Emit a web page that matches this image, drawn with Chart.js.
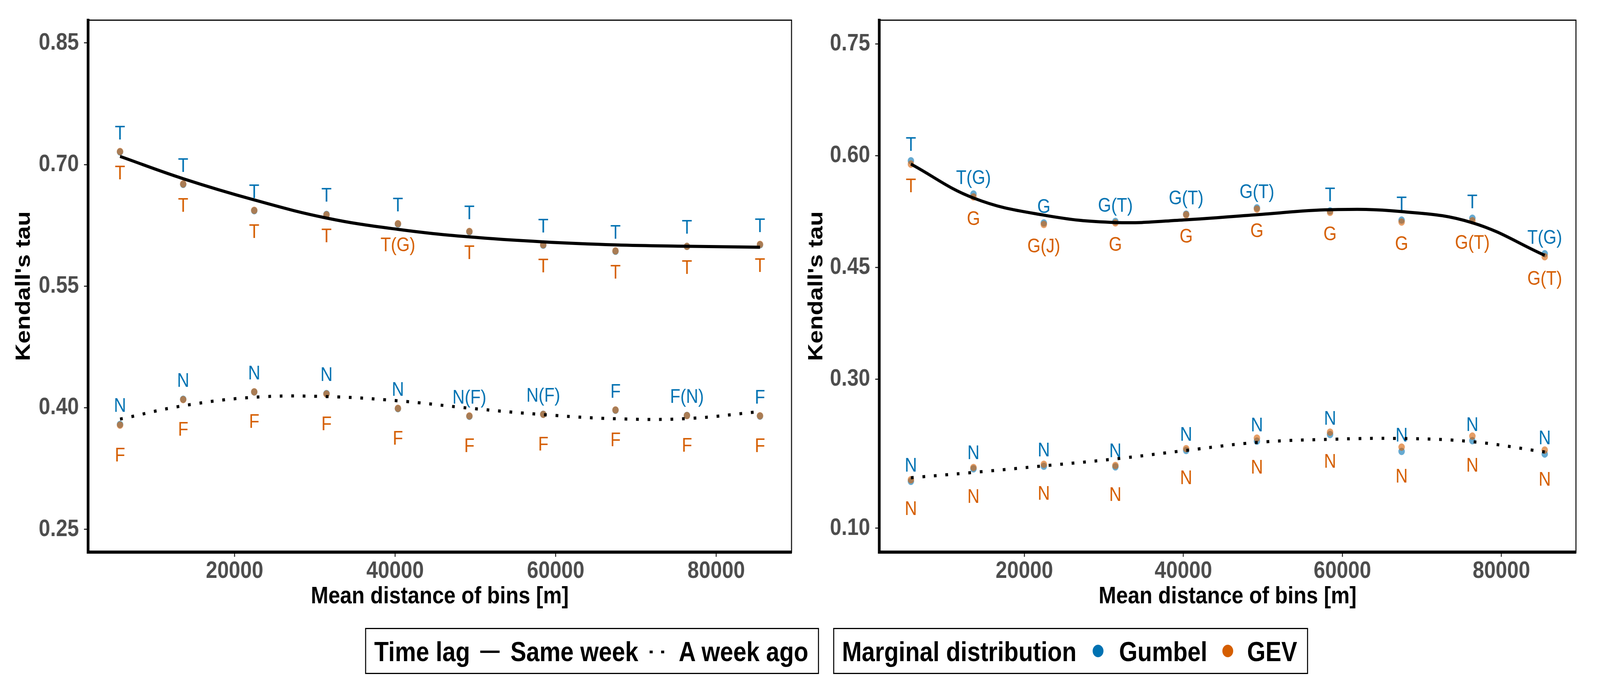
<!DOCTYPE html>
<html>
<head>
<meta charset="utf-8">
<script src="https://cdn.jsdelivr.net/npm/chart.js@4.4.1/dist/chart.umd.min.js"></script>
<style>
    html, body {
        margin: 0;
        background: #fff;
        overflow: hidden;
        font-family: "Liberation Sans", Arial, sans-serif;
    }
    #page {
        position: absolute;
        left: 0;
        top: 0;
        width: 4724px;
        height: 1771px;
        background: #fff;
        transform-origin: 0 0;
    }
    .panel { position: absolute; top: 0; }
    .box {
        position: absolute;
        top: 1607px;
        height: 118px;
        border: 3px solid #000;
        box-sizing: border-box;
    }
    .lg {
        position: absolute;
        top: 1633px;
        font-size: 70px;
        line-height: 70px;
        font-weight: bold;
        white-space: nowrap;
        color: #000;
    }
    .key { position: absolute; background: #000; }
    .dot { position: absolute; width: 32px; height: 32px; border-radius: 50%; top: 1650px; }
</style>
</head>
<body>
<div id="page">
    <div class="panel" style="left:0px;width:2370px;height:1600px;">
        <canvas id="chart-left" width="2370" height="1600"></canvas>
    </div>
    <div class="panel" style="left:2340px;width:2384px;height:1600px;">
        <canvas id="chart-right" width="2384" height="1600"></canvas>
    </div>

    <!-- legend: time lag -->
    <div class="box" style="left:1078px;width:1340px;"></div>
    <span class="lg" style="left:1105px;">Time lag</span>
    <div class="key" style="left:1418px;top:1665px;width:57px;height:6px;"></div>
    <span class="lg" style="left:1507px;">Same week</span>
    <div class="key" style="left:1918px;top:1665px;width:9px;height:7px;"></div>
    <div class="key" style="left:1952px;top:1665px;width:9px;height:7px;"></div>
    <span class="lg" style="left:2004px;">A week ago</span>

    <!-- legend: marginal distribution -->
    <div class="box" style="left:2460px;width:1402px;"></div>
    <span class="lg" style="left:2486px;">Marginal distribution</span>
    <div class="dot" style="left:3226px;background:#0072B2;"></div>
    <span class="lg" style="left:3304px;">Gumbel</span>
    <div class="dot" style="left:3609px;background:#D55E00;"></div>
    <span class="lg" style="left:3682px;">GEV</span>
</div>

<script>
// Mean distance of bins [m] (same for both panels)
var mean_distance = [5730, 13600, 22450, 31450, 40350, 49250, 58450, 67450, 76350, 85450];

// ---- Left panel ----
var left_same_gumbel = [0.7155, 0.6755, 0.6430, 0.6385, 0.6265, 0.6170, 0.6005, 0.5930, 0.5990, 0.6010];
var left_same_gev    = [0.7160, 0.6760, 0.6435, 0.6380, 0.6270, 0.6175, 0.6010, 0.5935, 0.5990, 0.6015];
var left_same_fit    = [0.7100, 0.6825, 0.6563, 0.6340, 0.6200, 0.6107, 0.6046, 0.6009, 0.5992, 0.5980];
var left_week_gumbel = [0.3795, 0.4105, 0.4195, 0.4175, 0.3990, 0.3895, 0.3920, 0.3970, 0.3905, 0.3898];
var left_week_gev    = [0.3786, 0.4101, 0.4197, 0.4170, 0.3993, 0.3899, 0.3919, 0.3973, 0.3904, 0.3901];
var left_week_fit    = [0.3860, 0.4025, 0.4130, 0.4138, 0.4086, 0.3995, 0.3916, 0.3865, 0.3867, 0.3953];

var left_same_gumbel_txt = ["T", "T", "T", "T", "T", "T", "T", "T", "T", "T"];
var left_same_gev_txt    = ["T", "T", "T", "T", "T(G)", "T", "T", "T", "T", "T"];
var left_week_gumbel_txt = ["N", "N", "N", "N", "N", "N(F)", "N(F)", "F", "F(N)", "F"];
var left_week_gev_txt    = ["F", "F", "F", "F", "F", "F", "F", "F", "F", "F"];
var left_y_ticks = [0.25, 0.40, 0.55, 0.70, 0.85];

// ---- Right panel ----
var right_same_gumbel = [0.5933, 0.5487, 0.5099, 0.5118, 0.5217, 0.5300, 0.5260, 0.5136, 0.5162, 0.4685];
var right_same_gev    = [0.5888, 0.5447, 0.5078, 0.5099, 0.5209, 0.5284, 0.5240, 0.5110, 0.5127, 0.4645];
var right_same_fit    = [0.5888, 0.5433, 0.5203, 0.5104, 0.5141, 0.5209, 0.5276, 0.5251, 0.5101, 0.4663];
var right_week_gumbel = [0.1630, 0.1798, 0.1832, 0.1824, 0.2045, 0.2170, 0.2258, 0.2032, 0.2176, 0.1997];
var right_week_gev    = [0.1652, 0.1816, 0.1859, 0.1843, 0.2069, 0.2210, 0.2290, 0.2090, 0.2237, 0.2050];
var right_week_fit    = [0.1678, 0.1750, 0.1838, 0.1931, 0.2045, 0.2152, 0.2194, 0.2205, 0.2162, 0.2024];

var right_same_gumbel_txt = ["T", "T(G)", "G", "G(T)", "G(T)", "G(T)", "T", "T", "T", "T(G)"];
var right_same_gev_txt    = ["T", "G", "G(J)", "G", "G", "G", "G", "G", "G(T)", "G(T)"];
var right_week_gumbel_txt = ["N", "N", "N", "N", "N", "N", "N", "N", "N", "N"];
var right_week_gev_txt    = ["N", "N", "N", "N", "N", "N", "N", "N", "N", "N"];
var right_y_ticks = [0.10, 0.30, 0.45, 0.60, 0.75];

var x_ticks = [20000, 40000, 60000, 80000];

const FONT = '"Liberation Sans", Arial, sans-serif';
const BLUE = 'rgba(0, 114, 178, 0.6)';
const ORANGE = 'rgba(213, 94, 0, 0.6)';

// the window may be narrower than the 4724 px figure: squeeze the page to fit
var page = document.getElementById('page');
page.style.transform = 'scale(' + (window.innerWidth / 4724) + ',' + (window.innerHeight / 1771) + ')';

function toXY(ys) {
    return mean_distance.map((x, i) => ({ x: x, y: ys[i] }));
}

// text letters above / below the points
const pointText = {
    id: 'pointText',
    afterDatasetDraw(chart, args) {
        const ds = chart.data.datasets[args.index];
        if (!ds.texts) return;
        const ctx = chart.ctx;
        ctx.save();
        ctx.font = '50px ' + FONT;
        ctx.fillStyle = ds.textColor;
        ctx.textAlign = 'center';
        ctx.textBaseline = 'middle';
        args.meta.data.forEach((pt, i) => {
            ctx.fillText(ds.texts[i], pt.x, pt.y + ds.textDy);
        });
        ctx.restore();
    }
};

// thin frame around the panel
const panelFrame = {
    id: 'panelFrame',
    afterDraw(chart) {
        const a = chart.chartArea;
        const ctx = chart.ctx;
        ctx.save();
        ctx.strokeStyle = '#000';
        ctx.lineWidth = 3;
        ctx.strokeRect(a.left, a.top, a.right - a.left, a.bottom - a.top);
        ctx.restore();
    }
};

function makeChart(id, d) {
    const ctx = document.getElementById(id).getContext("2d");
    return new Chart(ctx, {
        type: 'scatter',
        data: {
            datasets: [
                { // same week fit
                    data: toXY(d.sameFit),
                    showLine: true,
                    borderColor: 'black',
                    borderWidth: 8,
                    pointRadius: 0,
                    tension: 0.4,
                    order: 0
                },
                { // a week ago fit
                    data: toXY(d.weekFit),
                    showLine: true,
                    borderColor: 'black',
                    borderWidth: 8,
                    borderDash: [8, 26],
                    borderCapStyle: 'butt',
                    pointRadius: 0,
                    tension: 0.4,
                    order: 0
                },
                { // gumbel same week
                    data: toXY(d.sameGum),
                    backgroundColor: BLUE,
                    borderWidth: 0,
                    pointRadius: 9.5,
                    texts: d.sameGumTxt,
                    textColor: '#0072B2',
                    textDy: d.dyBlue,
                    order: 2
                },
                { // gumbel week ago
                    data: toXY(d.weekGum),
                    backgroundColor: BLUE,
                    borderWidth: 0,
                    pointRadius: 9.5,
                    texts: d.weekGumTxt,
                    textColor: '#0072B2',
                    textDy: d.dyBlue,
                    order: 2
                },
                { // gev same week
                    data: toXY(d.sameGev),
                    backgroundColor: ORANGE,
                    borderWidth: 0,
                    pointRadius: 9.5,
                    texts: d.sameGevTxt,
                    textColor: '#D55E00',
                    textDy: d.dySame,
                    order: 1
                },
                { // gev week ago
                    data: toXY(d.weekGev),
                    backgroundColor: ORANGE,
                    borderWidth: 0,
                    pointRadius: 9.5,
                    texts: d.weekGevTxt,
                    textColor: '#D55E00',
                    textDy: d.dyWeek,
                    order: 1
                },
            ],
        },
        options: {
            responsive: false,
            animation: false,
            devicePixelRatio: 1,
            layout: {
                padding: { top: 47, right: d.padRight, left: 0, bottom: 0 }
            },
            scales: {
                x: {
                    type: 'linear',
                    min: 1750,
                    max: 89380,
                    afterBuildTicks: s => { s.ticks = x_ticks.map(v => ({ value: v })); },
                    afterFit: s => { s.height = 187; },
                    border: { display: true, color: 'black', width: 8 },
                    grid: { drawOnChartArea: false, drawTicks: true, tickLength: 12, tickWidth: 3, tickColor: '#333333' },
                    ticks: {
                        color: '#4D4D4D',
                        padding: 1,
                        maxRotation: 0,
                        font: { family: FONT, size: 61, weight: 'bold' },
                        callback: v => String(v)
                    },
                    title: {
                        display: true,
                        text: 'Mean distance of bins [m]',
                        color: 'black',
                        padding: { top: 0, bottom: 36 },
                        font: { family: FONT, size: 62, weight: 'bold' }
                    }
                },
                y: {
                    min: d.yMin,
                    max: d.yMax,
                    afterBuildTicks: s => { s.ticks = d.yTicks.map(v => ({ value: v })); },
                    afterFit: s => { s.width = d.yWidth; },
                    border: { display: true, color: 'black', width: 8 },
                    grid: { drawOnChartArea: false, drawTicks: true, tickLength: 12, tickWidth: 3, tickColor: '#333333' },
                    ticks: {
                        color: '#4D4D4D',
                        padding: 15,
                        font: { family: FONT, size: 61, weight: 'bold' },
                        callback: v => Number(v).toFixed(2)
                    },
                    title: {
                        display: true,
                        text: "Kendall's tau",
                        color: 'black',
                        padding: { top: 34, bottom: 0 },
                        font: { family: FONT, size: 62, weight: 'bold' }
                    }
                }
            },
            plugins: {
                legend: { display: false },
                tooltip: { enabled: false }
            }
        },
        plugins: [pointText, panelFrame]
    });
}

makeChart("chart-left", {
    sameGum: left_same_gumbel, sameGev: left_same_gev, sameFit: left_same_fit,
    weekGum: left_week_gumbel, weekGev: left_week_gev, weekFit: left_week_fit,
    sameGumTxt: left_same_gumbel_txt, sameGevTxt: left_same_gev_txt,
    weekGumTxt: left_week_gumbel_txt, weekGevTxt: left_week_gev_txt,
    yTicks: left_y_ticks, yMin: 0.222, yMax: 0.878,
    yWidth: 260, padRight: 33,
    dyBlue: -46, dySame: 57, dyWeek: 79
});

makeChart("chart-right", {
    sameGum: right_same_gumbel, sameGev: right_same_gev, sameFit: right_same_fit,
    weekGum: right_week_gumbel, weekGev: right_week_gev, weekFit: right_week_fit,
    sameGumTxt: right_same_gumbel_txt, sameGevTxt: right_same_gev_txt,
    weekGumTxt: right_week_gumbel_txt, weekGevTxt: right_week_gev_txt,
    yTicks: right_y_ticks, yMin: 0.068, yMax: 0.782,
    yWidth: 256, padRight: 71,
    dyBlue: -39, dySame: 58, dyWeek: 77
});
</script>
</body>
</html>
